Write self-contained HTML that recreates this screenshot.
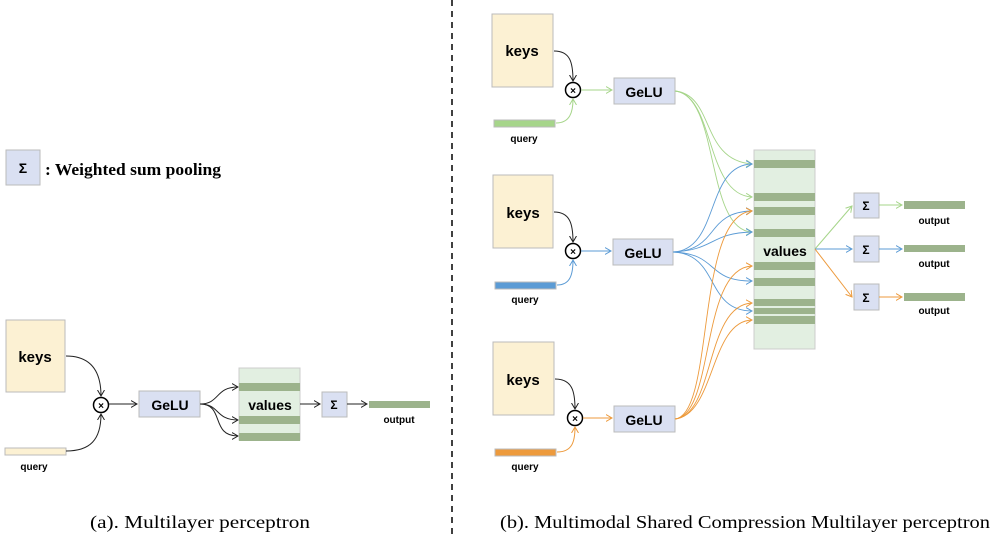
<!DOCTYPE html>
<html><head><meta charset="utf-8"><style>
html,body{margin:0;padding:0;background:#fff;width:996px;height:551px;overflow:hidden}
svg text{font-family:"Liberation Sans",sans-serif;font-weight:bold}
</style></head><body>
<svg width="996" height="551" viewBox="0 0 996 551" xmlns="http://www.w3.org/2000/svg">
<defs>
<marker id="ak" markerWidth="8" markerHeight="8" refX="6" refY="4" orient="auto" markerUnits="userSpaceOnUse"><path d="M0,0.5 L6,4 L0,7.5" fill="none" stroke="#222" stroke-width="1"/></marker>
<marker id="ag" markerWidth="8" markerHeight="8" refX="6" refY="4" orient="auto" markerUnits="userSpaceOnUse"><path d="M0,0.5 L6,4 L0,7.5" fill="none" stroke="#a6d58a" stroke-width="1"/></marker>
<marker id="ab" markerWidth="8" markerHeight="8" refX="6" refY="4" orient="auto" markerUnits="userSpaceOnUse"><path d="M0,0.5 L6,4 L0,7.5" fill="none" stroke="#5b9bd5" stroke-width="1"/></marker>
<marker id="ao" markerWidth="8" markerHeight="8" refX="6" refY="4" orient="auto" markerUnits="userSpaceOnUse"><path d="M0,0.5 L6,4 L0,7.5" fill="none" stroke="#ed9a3c" stroke-width="1"/></marker>
</defs>
<line x1="452" y1="0" x2="452" y2="534" stroke="#000" stroke-width="1.5" stroke-dasharray="6,5"/>

<!-- legend -->
<rect x="6" y="150" width="34" height="35" fill="#dae0f2" stroke="#bbb"/>
<text x="23" y="173" font-size="14" text-anchor="middle">Σ</text>
<text x="45" y="175" font-size="17" textLength="176" lengthAdjust="spacingAndGlyphs" style="font-family:'Liberation Serif',serif">: Weighted sum pooling</text>

<!-- left diagram -->
<rect x="6" y="320" width="59" height="72" fill="#fcf1d3" stroke="#bbb"/>
<text x="35" y="362" font-size="15" text-anchor="middle">keys</text>
<rect x="5" y="448" width="61" height="7" fill="#fcf1d3" stroke="#bbb"/>
<text x="34" y="470" font-size="10" text-anchor="middle">query</text>
<circle cx="101" cy="405" r="7.5" fill="#fff" stroke="#000" stroke-width="1.5"/>
<text x="101" y="409" font-size="10" text-anchor="middle">×</text>
<path d="M66,356 C90,356 101,370 101,396" fill="none" stroke="#222" marker-end="url(#ak)"/>
<path d="M66,451 C90,451 101,440 101,414" fill="none" stroke="#222" marker-end="url(#ak)"/>
<line x1="109" y1="404" x2="137" y2="404" stroke="#222" marker-end="url(#ak)"/>
<rect x="139" y="391" width="61" height="26" fill="#dae0f2" stroke="#bbb"/>
<text x="170" y="410" font-size="14" text-anchor="middle">GeLU</text>
<path d="M200,404 C220,404 215,387 238,387" fill="none" stroke="#222" marker-end="url(#ak)"/>
<path d="M200,404 C220,404 215,420 238,420" fill="none" stroke="#222" marker-end="url(#ak)"/>
<path d="M200,404 C225,404 210,436 238,436" fill="none" stroke="#222" marker-end="url(#ak)"/>
<rect x="239" y="368" width="61" height="72" fill="#e2efe1" stroke="#ccc"/>
<rect x="239" y="383" width="61" height="8" fill="#9cb38c"/>
<rect x="239" y="416" width="61" height="8" fill="#9cb38c"/>
<rect x="239" y="433" width="61" height="8" fill="#9cb38c"/>
<text x="270" y="410" font-size="14" text-anchor="middle">values</text>
<line x1="300" y1="404" x2="320" y2="404" stroke="#222" marker-end="url(#ak)"/>
<rect x="322" y="392" width="25" height="25" fill="#dae0f2" stroke="#bbb"/>
<text x="334" y="409" font-size="12" text-anchor="middle">Σ</text>
<line x1="347" y1="404" x2="367" y2="404" stroke="#222" marker-end="url(#ak)"/>
<rect x="369" y="401" width="61" height="7" fill="#9cb38c"/>
<text x="399" y="423" font-size="10" text-anchor="middle">output</text>

<!-- right: rows -->
<g>
<rect x="492" y="14" width="61" height="73" fill="#fcf1d3" stroke="#bbb"/>
<text x="522" y="56" font-size="15" text-anchor="middle">keys</text>
<rect x="494" y="120" width="61" height="7" fill="#a6d58a" stroke="#bbb"/>
<text x="524" y="142" font-size="10" text-anchor="middle">query</text>
<circle cx="573" cy="90" r="7.5" fill="#fff" stroke="#000" stroke-width="1.5"/>
<text x="573" y="94" font-size="10" text-anchor="middle">×</text>
<path d="M554,51 C570,51 573,62 573,81" fill="none" stroke="#222" marker-end="url(#ak)"/>
<path d="M556,123 C570,123 573,112 573,99" fill="none" stroke="#a6d58a" marker-end="url(#ag)"/>
<line x1="581" y1="90" x2="612" y2="90" stroke="#a6d58a" marker-end="url(#ag)"/>
<rect x="614" y="78" width="61" height="26" fill="#dae0f2" stroke="#bbb"/>
<text x="644" y="97" font-size="14" text-anchor="middle">GeLU</text>

<rect x="493" y="175" width="60" height="73" fill="#fcf1d3" stroke="#bbb"/>
<text x="523" y="218" font-size="15" text-anchor="middle">keys</text>
<rect x="495" y="282" width="61" height="7" fill="#5b9bd5" stroke="#bbb"/>
<text x="525" y="303" font-size="10" text-anchor="middle">query</text>
<circle cx="573" cy="251" r="7.5" fill="#fff" stroke="#000" stroke-width="1.5"/>
<text x="573" y="255" font-size="10" text-anchor="middle">×</text>
<path d="M554,212 C570,212 573,224 573,242" fill="none" stroke="#222" marker-end="url(#ak)"/>
<path d="M557,285 C570,285 573,275 573,260" fill="none" stroke="#5b9bd5" marker-end="url(#ab)"/>
<line x1="581" y1="251" x2="611" y2="251" stroke="#5b9bd5" marker-end="url(#ab)"/>
<rect x="613" y="239" width="60" height="26" fill="#dae0f2" stroke="#bbb"/>
<text x="643" y="258" font-size="14" text-anchor="middle">GeLU</text>

<rect x="493" y="342" width="61" height="73" fill="#fcf1d3" stroke="#bbb"/>
<text x="523" y="385" font-size="15" text-anchor="middle">keys</text>
<rect x="495" y="449" width="61" height="7" fill="#ed9a3c" stroke="#bbb"/>
<text x="525" y="470" font-size="10" text-anchor="middle">query</text>
<circle cx="575" cy="418" r="7.5" fill="#fff" stroke="#000" stroke-width="1.5"/>
<text x="575" y="422" font-size="10" text-anchor="middle">×</text>
<path d="M555,379 C572,379 575,391 575,409" fill="none" stroke="#222" marker-end="url(#ak)"/>
<path d="M557,452 C572,452 575,442 575,427" fill="none" stroke="#ed9a3c" marker-end="url(#ao)"/>
<line x1="583" y1="418" x2="612" y2="418" stroke="#ed9a3c" marker-end="url(#ao)"/>
<rect x="614" y="406" width="61" height="26" fill="#dae0f2" stroke="#bbb"/>
<text x="644" y="425" font-size="14" text-anchor="middle">GeLU</text>
</g>

<!-- values column -->
<rect x="754" y="150" width="61" height="199" fill="#e2efe1" stroke="#ccc"/>
<g fill="#9cb38c">
<rect x="754" y="160" width="61" height="8"/>
<rect x="754" y="193" width="61" height="8"/>
<rect x="754" y="207" width="61" height="8"/>
<rect x="754" y="229" width="61" height="8"/>
<rect x="754" y="262" width="61" height="8"/>
<rect x="754" y="278" width="61" height="8"/>
<rect x="754" y="299" width="61" height="7"/>
<rect x="754" y="308" width="61" height="6"/>
<rect x="754" y="316" width="61" height="8"/>
</g>
<text x="785" y="256" font-size="14" text-anchor="middle">values</text>

<g fill="none" stroke="#a6d58a" stroke-width="0.9">
<path d="M675,91 C715,95 700,160 752,164" marker-end="url(#ag)"/>
<path d="M675,91 C715,95 705,195 752,197" marker-end="url(#ag)"/>
<path d="M675,91 C720,95 705,230 752,232" marker-end="url(#ag)"/>
</g>
<g fill="none" stroke="#5b9bd5" stroke-width="0.9">
<path d="M673,252 C720,250 705,165 752,164" marker-end="url(#ab)"/>
<path d="M673,252 C720,250 705,212 752,211" marker-end="url(#ab)"/>
<path d="M673,252 C715,250 710,233 752,232" marker-end="url(#ab)"/>
<path d="M673,252 C720,254 705,281 752,281" marker-end="url(#ab)"/>
<path d="M673,252 C720,254 705,311 752,311" marker-end="url(#ab)"/>
</g>
<g fill="none" stroke="#ed9a3c" stroke-width="0.9">
<path d="M675,419 C715,415 695,215 752,211" marker-end="url(#ao)"/>
<path d="M675,419 C715,415 700,268 752,266" marker-end="url(#ao)"/>
<path d="M675,419 C715,415 705,305 752,303" marker-end="url(#ao)"/>
<path d="M675,419 C715,415 710,321 752,320" marker-end="url(#ao)"/>
</g>
<path d="M815,249 L852,206" fill="none" stroke="#a6d58a" marker-end="url(#ag)"/>
<line x1="815" y1="249" x2="852" y2="249" stroke="#5b9bd5" marker-end="url(#ab)"/>
<path d="M815,249 L852,297" fill="none" stroke="#ed9a3c" marker-end="url(#ao)"/>
<rect x="854" y="193" width="25" height="25" fill="#dae0f2" stroke="#bbb"/>
<text x="866" y="210" font-size="12" text-anchor="middle">Σ</text>
<rect x="854" y="236" width="25" height="26" fill="#dae0f2" stroke="#bbb"/>
<text x="866" y="254" font-size="12" text-anchor="middle">Σ</text>
<rect x="854" y="284" width="25" height="26" fill="#dae0f2" stroke="#bbb"/>
<text x="866" y="302" font-size="12" text-anchor="middle">Σ</text>
<line x1="879" y1="205" x2="902" y2="205" stroke="#a6d58a" marker-end="url(#ag)"/>
<line x1="879" y1="249" x2="902" y2="249" stroke="#5b9bd5" marker-end="url(#ab)"/>
<line x1="879" y1="297" x2="902" y2="297" stroke="#ed9a3c" marker-end="url(#ao)"/>
<rect x="904" y="201" width="61" height="8" fill="#9cb38c"/>
<rect x="904" y="245" width="61" height="7" fill="#9cb38c"/>
<rect x="904" y="293" width="61" height="8" fill="#9cb38c"/>
<text x="934" y="224" font-size="10" text-anchor="middle">output</text>
<text x="934" y="267" font-size="10" text-anchor="middle">output</text>
<text x="934" y="314" font-size="10" text-anchor="middle">output</text>

<text x="90" y="528" font-size="18" textLength="220" lengthAdjust="spacingAndGlyphs" style="font-family:'Liberation Serif',serif;font-weight:normal">(a). Multilayer perceptron</text>
<text x="500" y="528" font-size="18" textLength="490" lengthAdjust="spacingAndGlyphs" style="font-family:'Liberation Serif',serif;font-weight:normal">(b). Multimodal Shared Compression Multilayer perceptron</text>
</svg>
</body></html>
